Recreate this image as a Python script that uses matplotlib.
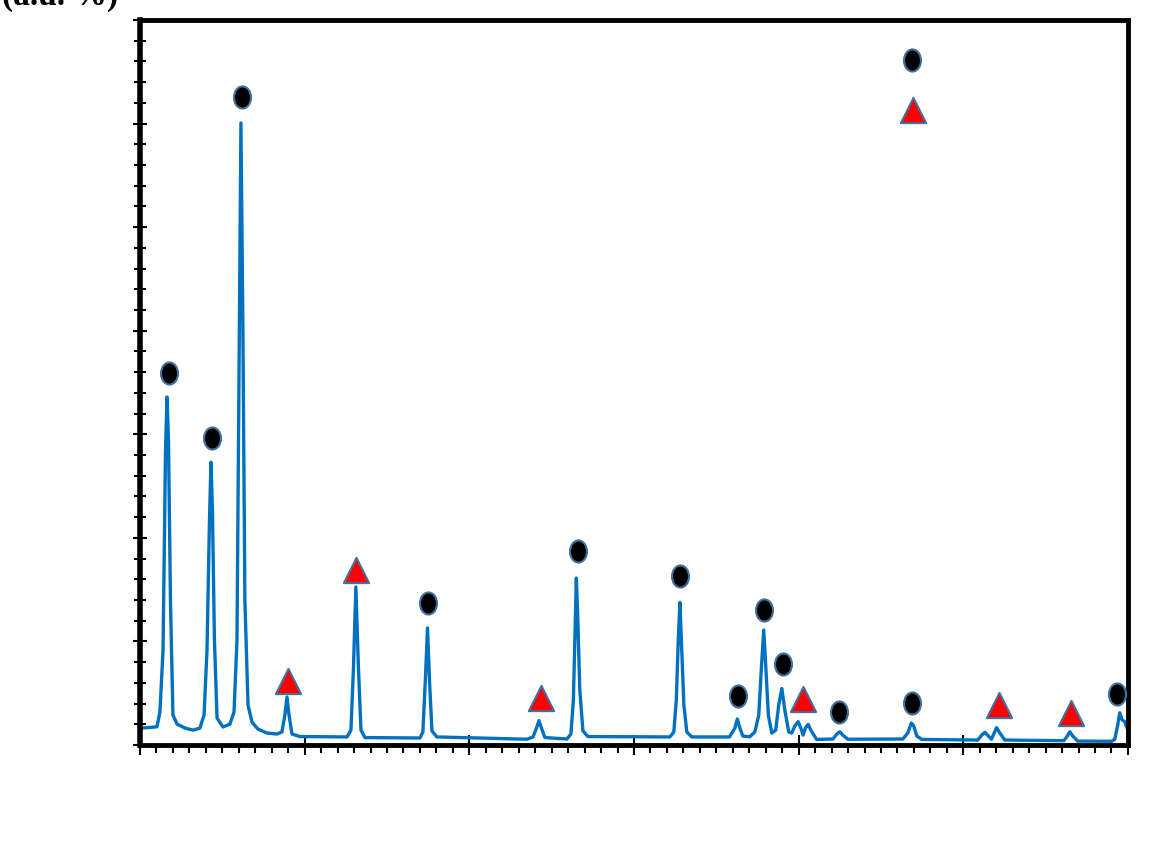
import matplotlib.pyplot as plt
from matplotlib.markers import MarkerStyle
from matplotlib.transforms import Affine2D
from matplotlib.ticker import MultipleLocator

# diffraction pattern, vertices (2theta, intensity)
two_theta = [10.00, 10.61, 11.03, 11.21, 11.40, 11.55, 11.64, 11.73, 11.85, 12.00, 12.25, 12.73,
             13.22, 13.64, 13.89, 14.07, 14.22, 14.31, 14.40, 14.52, 14.68, 15.04, 15.46, 15.71,
             15.89, 16.01, 16.13, 16.25, 16.37, 16.56, 16.80, 17.16, 17.71, 18.32, 18.62, 18.80,
             18.93, 19.05, 19.23, 19.71, 22.57, 22.81, 22.96, 23.11, 23.26, 23.42, 23.66, 27.00,
             27.18, 27.33, 27.46, 27.58, 27.73, 28.03, 33.50, 33.87, 34.08, 34.23, 34.38, 34.59,
             35.93, 36.17, 36.32, 36.41, 36.50, 36.59, 36.71, 36.90, 37.20, 42.18, 42.42, 42.57,
             42.69, 42.79, 42.88, 43.03, 43.21, 43.51, 45.80, 46.13, 46.28, 46.43, 46.61, 47.03,
             47.34, 47.58, 47.73, 47.88, 48.00, 48.16, 48.37, 48.61, 48.79, 48.98, 49.16, 49.40,
             49.58, 49.77, 49.97, 50.13, 50.27, 50.41, 50.58, 50.74, 51.09, 52.08, 52.32, 52.50,
             52.68, 52.99, 56.33, 56.63, 56.84, 56.99, 57.18, 57.48, 60.88, 61.12, 61.31, 61.71,
             62.02, 62.22, 62.52, 66.10, 66.28, 66.47, 66.65, 66.95, 69.02, 69.20, 69.38, 69.50,
             69.65, 69.80, 70.00]
intensity = [0.81, 0.85, 0.88, 1.59, 4.59, 14.24, 16.80, 14.73, 7.00, 1.45, 1.01, 0.82,
             0.72, 0.82, 1.45, 4.59, 10.86, 13.66, 11.35, 5.07, 1.30, 0.87, 1.01, 1.59,
             5.07, 17.62, 30.03, 20.04, 7.00, 1.93, 1.11, 0.77, 0.58, 0.53, 0.63, 1.45,
             2.32, 1.45, 0.53, 0.41, 0.39, 0.72, 3.62, 7.63, 3.86, 0.72, 0.36, 0.34,
             0.63, 3.14, 5.65, 3.14, 0.68, 0.39, 0.28, 0.39, 0.82, 1.18, 0.82, 0.36,
             0.29, 0.53, 2.17, 5.07, 8.06, 6.04, 2.66, 0.68, 0.41, 0.39, 0.63, 2.17,
             5.07, 6.88, 5.07, 1.93, 0.63, 0.39, 0.39, 0.82, 1.26, 0.82, 0.43, 0.40,
             0.63, 1.45, 3.62, 5.55, 3.86, 1.45, 0.58, 0.72, 1.93, 2.73, 1.69, 0.63,
             0.58, 0.92, 1.13, 0.82, 0.48, 0.82, 1.00, 0.72, 0.27, 0.29, 0.53, 0.64,
             0.48, 0.28, 0.29, 0.58, 1.06, 0.92, 0.43, 0.27, 0.24, 0.48, 0.61, 0.28,
             0.84, 0.58, 0.24, 0.21, 0.39, 0.64, 0.43, 0.19, 0.18, 0.28, 0.97, 1.56,
             1.21, 1.13, 0.72]

# phase markers (circle phase / triangle phase)
circle_x = [11.76, 14.37, 16.19, 27.49, 36.59, 42.79, 46.31, 47.89, 49.04, 52.44, 56.87, 69.32]
circle_y = [17.96, 14.82, 31.29, 6.86, 9.37, 8.16, 2.37, 6.52, 3.91, 1.59, 2.03, 2.46]
tri_x = [18.99, 23.11, 34.35, 50.26, 62.16, 66.53]
tri_y = [3.11, 8.45, 2.29, 2.22, 1.91, 1.57]

line_color = '#0070c0'
edge_color = '#41719c'

fig = plt.figure(figsize=(11.57, 8.64), dpi=100)
ax = fig.add_axes([0.1210, 0.1377, 0.8539, 0.8391])

ax.plot(two_theta, intensity, color=line_color, lw=2.4, zorder=2)

oval = MarkerStyle('o', transform=Affine2D().scale(1.0, 1.3))
ax.scatter(circle_x, circle_y, marker=oval, s=150, c='black', edgecolors=edge_color,
           linewidths=1.5, zorder=3)
ax.scatter(tri_x, tri_y, marker='^', s=330, c='red', edgecolors=edge_color,
           linewidths=1.5, zorder=3)

# legend symbols (no text visible)
ax.scatter([0.781], [0.945], marker=oval, s=150, c='black', edgecolors=edge_color,
           linewidths=1.5, transform=ax.transAxes, clip_on=False, zorder=3)
ax.scatter([0.782], [0.876], marker='^', s=330, c='red', edgecolors=edge_color,
           linewidths=1.5, transform=ax.transAxes, clip_on=False, zorder=3)

ax.set_xlim(10, 70)
ax.set_ylim(0, 35)
ax.xaxis.set_major_locator(MultipleLocator(10))
ax.xaxis.set_minor_locator(MultipleLocator(1))
ax.yaxis.set_major_locator(MultipleLocator(5))
ax.yaxis.set_minor_locator(MultipleLocator(1))

for s in ax.spines.values():
    s.set_linewidth(3.5)
ax.spines['left'].set_linewidth(4)
ax.tick_params(axis='x', which='major', direction='inout', length=14, width=1.5,
               labelbottom=False)
ax.tick_params(axis='x', which='minor', direction='out', length=6, width=1.5)
ax.tick_params(axis='y', which='major', direction='inout', length=10.5, width=1.5,
               labelleft=False)
ax.tick_params(axis='y', which='minor', direction='inout', length=8.5, width=1.5)

# axis label at the top left, cut off by the figure edge as in the original
fig.text(0.002, 1 - 5 / 864, '(a.u. %)', fontsize=24, fontweight='bold',
         family='Liberation Serif', va='baseline', ha='left')

fig.savefig('out.png', dpi=100)
